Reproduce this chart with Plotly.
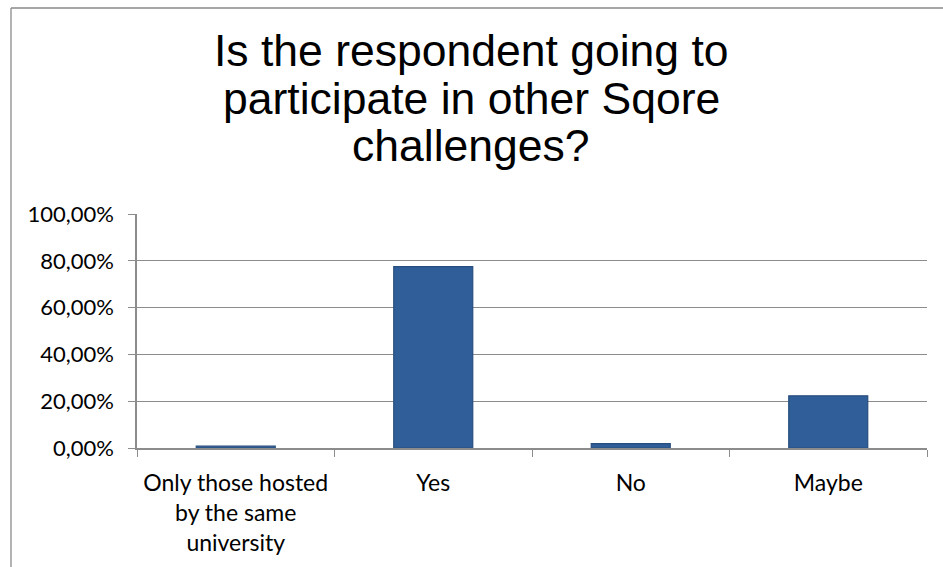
import plotly.graph_objects as go

categories = ["Only those hosted<br>by the same<br>university", "Yes", "No", "Maybe"]
values = [0.008, 0.775, 0.019, 0.223]
title_lines = ["Is the respondent going to", "participate in other Sqore", "challenges?"]
y_ticks = [0, 0.2, 0.4, 0.6, 0.8, 1.0]

W, H = 943, 567
L, R, T, B = 137, 16, 214, 119
pw, ph = W - L - R, H - T - B

def px_x(x):
    return (x - L) / pw

def px_y(y):
    return (H - B - y) / ph

fig = go.Figure()
fig.add_trace(go.Bar(
    x=categories, y=values, width=0.4,
    marker=dict(color="#2f5e98", line=dict(color="#274e7e", width=1.2)),
    hoverinfo="x+y",
))

grid = "#8c8c8c"
fig.update_layout(
    width=W, height=H,
    margin=dict(l=L, r=R, t=T, b=B, pad=0),
    paper_bgcolor="white", plot_bgcolor="white",
    separators=",.",
    showlegend=False,
    font=dict(family="Lato, Carlito, Calibri, sans-serif", size=22, color="black"),
    xaxis=dict(
        type="category", tickson="boundaries", ticks="outside", ticklen=7,
        tickcolor=grid, tickwidth=1.3, showline=True, linecolor=grid, linewidth=1.5,
        showgrid=False, tickfont=dict(size=23), ticklabelstandoff=14, fixedrange=True,
    ),
    yaxis=dict(
        range=[0, 1], tickvals=y_ticks, tickformat=".2%", ticks="outside", ticklen=7,
        tickcolor=grid, tickwidth=1.3, showline=True, linecolor=grid, linewidth=1.5,
        showgrid=True, gridcolor=grid, gridwidth=1.3, zeroline=False,
        tickfont=dict(size=22), ticklabelstandoff=10, fixedrange=True,
    ),
)

# title lines
title_y = [50, 98, 145]
for line, yy in zip(title_lines, title_y):
    fig.add_annotation(
        text=line, xref="paper", yref="paper", x=px_x(471), y=px_y(yy),
        xanchor="center", yanchor="middle", showarrow=False,
        font=dict(family="Liberation Sans, Arial, sans-serif", size=44.5, color="black"),
    )

# outer chart frame (cropped)
fig.add_shape(type="line", xref="paper", yref="paper",
              x0=px_x(11), x1=px_x(11), y0=px_y(8), y1=px_y(580),
              line=dict(color="#8a8a8a", width=1.3))
fig.add_shape(type="line", xref="paper", yref="paper",
              x0=px_x(11), x1=px_x(960), y0=px_y(8), y1=px_y(8),
              line=dict(color="#8a8a8a", width=1.3))

fig.write_html("out.html")
